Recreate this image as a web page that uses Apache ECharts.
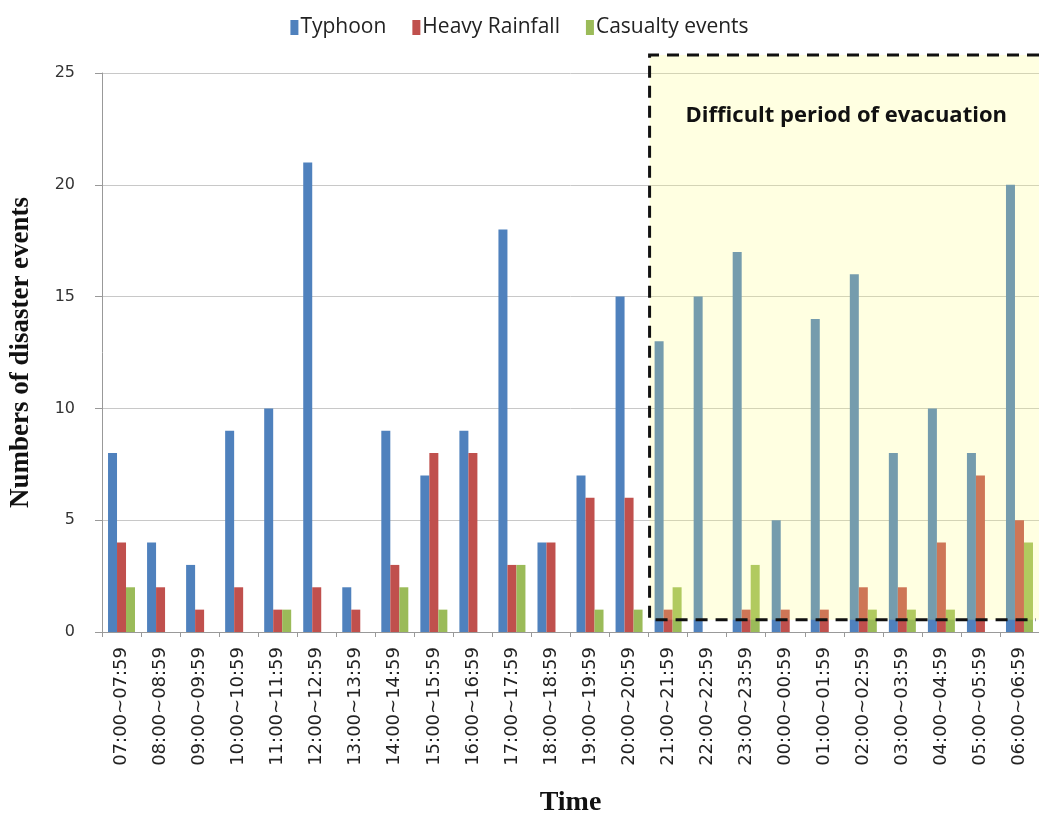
<!DOCTYPE html>
<html>
<head>
<meta charset="utf-8">
<script src="https://cdn.jsdelivr.net/npm/echarts@6/dist/echarts.min.js"></script>
<style>
  html, body { margin: 0; padding: 0; background: #fff; }
  #chart { width: 1039px; height: 822px; }
</style>
</head>
<body>
<div id="chart"></div>
<script>
// Hourly time slots
const categories = [
  '07:00~07:59', '08:00~08:59', '09:00~09:59', '10:00~10:59', '11:00~11:59', '12:00~12:59',
  '13:00~13:59', '14:00~14:59', '15:00~15:59', '16:00~16:59', '17:00~17:59', '18:00~18:59',
  '19:00~19:59', '20:00~20:59', '21:00~21:59', '22:00~22:59', '23:00~23:59', '00:00~00:59',
  '01:00~01:59', '02:00~02:59', '03:00~03:59', '04:00~04:59', '05:00~05:59', '06:00~06:59'
];

// Event counts per slot
const typhoon  = [8, 4, 3, 9, 10, 21, 2, 9, 7, 9, 18, 4, 7, 15, 13, 15, 17, 5, 14, 16, 8, 10, 8, 20];
const rainfall = [4, 2, 1, 2, 1, 2, 1, 3, 8, 8, 3, 4, 6, 6, 1, 0, 1, 1, 1, 2, 2, 4, 7, 5];
const casualty = [2, 0, 0, 0, 1, 0, 0, 2, 1, 0, 3, 0, 1, 1, 2, 0, 3, 0, 0, 1, 1, 1, 0, 4];

const seriesNames = ['Typhoon', 'Heavy Rainfall', 'Casualty events'];
const yTicks = [0, 5, 10, 15, 20, 25];

// Night-time window: starts at the 21:00 slot, spans value range below
const periodStartIndex = 14;
const periodLabel = 'Difficult period of evacuation';
const periodTop = 25.8;
const periodBottom = 0.55;
const periodLabelValue = 23.1;

const chart = echarts.init(document.getElementById('chart'));

const barStyle = (name, data, color) => ({
  name: name,
  type: 'bar',
  data: data,
  barWidth: 9,
  barGap: '0%',
  itemStyle: { color: color },
  emphasis: { disabled: true }
});

chart.setOption({
  animation: false,
  backgroundColor: '#ffffff',
  legend: {
    top: 12,
    left: 'center',
    itemWidth: 8,
    itemHeight: 15,
    itemGap: 26,
    icon: 'rect',
    textStyle: { fontFamily: 'Open Sans', fontSize: 21, color: '#222', padding: [0, 0, 0, -3] },
    data: seriesNames
  },
  grid: { left: 90, width: 952, top: 73, bottom: 171, containLabel: false },
  xAxis: {
    type: 'category',
    data: categories,
    name: 'Time',
    nameLocation: 'middle',
    nameGap: 157,
    nameTextStyle: { fontFamily: 'Liberation Serif', fontWeight: 'bold', fontSize: 28, color: '#111' },
    axisLine: { lineStyle: { color: '#999', width: 1 } },
    axisTick: { show: true, length: 5, lineStyle: { color: '#999' } },
    axisLabel: {
      interval: 0,
      rotate: 90,
      margin: 15,
      fontFamily: 'DejaVu Sans',
      fontSize: 18,
      color: '#222'
    }
  },
  yAxis: {
    type: 'value',
    min: yTicks[0],
    max: yTicks[yTicks.length - 1],
    interval: 5,
    name: 'Numbers of disaster events',
    nameLocation: 'middle',
    nameGap: 67,
    nameTextStyle: { fontFamily: 'Liberation Serif', fontWeight: 'bold', fontSize: 27, color: '#111' },
    axisLine: { show: true, lineStyle: { color: '#999', width: 1 } },
    axisTick: { show: true, length: 7, lineStyle: { color: '#999' } },
    axisLabel: { margin: 27, fontFamily: 'DejaVu Sans', fontSize: 16, color: '#333' },
    splitLine: { lineStyle: { color: '#c8c8c8', width: 1 } }
  },
  series: [
    barStyle(seriesNames[0], typhoon, '#4f81bd'),
    barStyle(seriesNames[1], rainfall, '#c0504d'),
    barStyle(seriesNames[2], casualty, '#9bbb59')
  ]
});

// Shaded, dashed-outline window laid over the night-time slots
function drawPeriod() {
  const c0 = chart.convertToPixel({ xAxisIndex: 0 }, periodStartIndex - 1);
  const c1 = chart.convertToPixel({ xAxisIndex: 0 }, periodStartIndex);
  const left = (c0 + c1) / 2 + 1;
  const right = chart.getWidth();
  const top = chart.convertToPixel({ yAxisIndex: 0 }, periodTop);
  const bottom = chart.convertToPixel({ yAxisIndex: 0 }, periodBottom);
  const labelY = chart.convertToPixel({ yAxisIndex: 0 }, periodLabelValue);
  const dash = { stroke: '#111', lineWidth: 3, lineDash: [12, 8], fill: null };

  chart.setOption({
    graphic: [
      {
        type: 'rect', z: 100, silent: true,
        shape: { x: left, y: top, width: right - left, height: bottom - top },
        style: { fill: 'rgba(255,255,120,0.22)' }
      },
      {
        type: 'polyline', z: 101, silent: true,
        shape: { points: [[right, top], [left, top], [left, bottom], [right - 3, bottom]] },
        style: dash
      },
      {
        type: 'text', z: 102, silent: true,
        x: (left + right) / 2 + 2, y: labelY,
        style: {
          text: periodLabel,
          fontFamily: 'Open Sans', fontWeight: 'bold', fontSize: 22, fill: '#111',
          align: 'center', verticalAlign: 'middle'
        }
      }
    ]
  });
}
drawPeriod();
</script>
</body>
</html>
